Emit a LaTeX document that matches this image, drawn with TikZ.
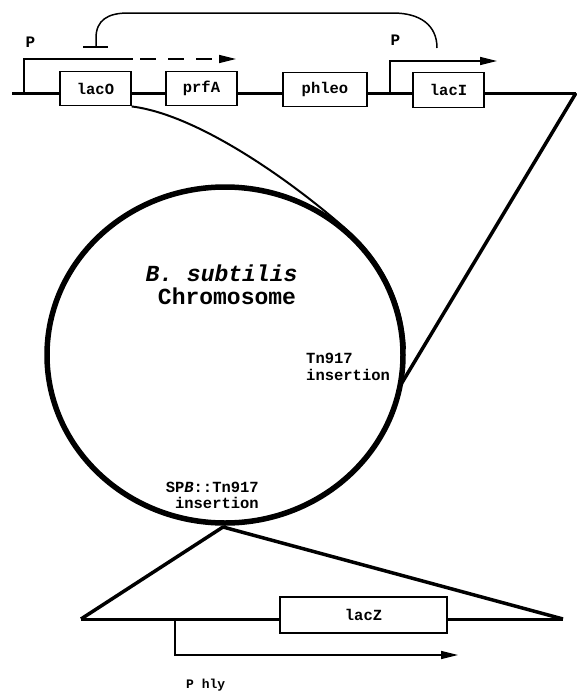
\documentclass[tikz,border=0pt]{standalone}
\usepackage{fontspec}
\setmainfont{Liberation Mono}
\usetikzlibrary{arrows.meta}
\begin{document}
\begin{tikzpicture}[x=1pt,y=-1pt,
  gene/.style={draw, line width=1.4pt, fill=white, inner sep=0pt, minimum height=34.5pt,
    font=\fontsize{15.5}{16}\selectfont\bfseries},
  dna/.style={line width=3pt},
  arm/.style={line width=3.5pt, line join=round},
  fineline/.style={line width=2pt},
  promline/.style={line width=1.5pt},
  tip/.style={-{Triangle[length=17pt,width=8pt]}},
  plbl/.style={inner sep=0pt, font=\fontsize{16}{16}\selectfont\bfseries},
  lbl/.style={inner sep=0pt, font=\fontsize{15.5}{16}\selectfont\bfseries},
  title/.style={inner sep=0pt, text depth=0pt, font=\fontsize{23}{24}\selectfont\bfseries},
]
\useasboundingbox (0,0) rectangle (576,691);
\fill[white] (0,0) rectangle (576,691);

% top construct
\coordinate (lineL) at (12,93);
\coordinate (lineR) at (576,93);
\draw[dna] (lineL) -- (lineR);
\node[gene, minimum width=71pt] (lacO) at (95.5,88.5) {lacO};
\node[gene, minimum width=71pt] (prfA) at (201.5,88.5) {prfA};
\node[gene, minimum width=84pt] (phleo) at (325,89.5) {phleo};
\node[gene, minimum width=71pt] (lacI) at (448.5,90) {lacI};

% promoter 1 (repressed, dashed transcript)
\coordinate (p1) at (24,93);
\coordinate (p1b) at (133,59);
\coordinate (p1c) at (140,59);
\coordinate (p1e) at (236,59);
\draw[promline] (p1) |- (p1b);
\draw[promline, dash pattern=on 16pt off 12pt, tip] (p1c) -- (p1e);
\node[plbl] (P1) at (30.5,42) {P};

% promoter 2
\coordinate (p2) at (390,93);
\coordinate (p2e) at (497,61);
\draw[promline, tip] (p2) |- (p2e);
\node[plbl] (P2) at (395.5,40) {P};

% repression by LacI
\coordinate (barL) at (83,47);
\coordinate (barR) at (108,47);
\coordinate (rep) at (96,47);
\coordinate (repEnd) at (437,48);
\draw[promline] (barL) -- (barR);
\draw[promline] (rep) -- (96,38) .. controls (96,20) and (108,13) .. (128,13)
  -- (393,13) .. controls (420,13) and (437,25) .. (repEnd);

% chromosome
\coordinate (cc) at (225,355);
\draw[line width=5.5pt] (cc) ellipse [x radius=178, y radius=168];
\draw[fineline] (lacO.south east) .. controls (201,115) and (299,187) ..
  ([shift={(-46.5:180 and 170)}]cc) arc[start angle=-46.5, end angle=-2, x radius=180, y radius=170];
\coordinate (tn) at (400,386);
\draw[arm] (lineR) -- (tn);

\node[title, anchor=base] (bs) at (221.5,281) {\itshape B. subtilis};
\node[title, anchor=base] (chr) at (227,304) {Chromosome};
\node[lbl, align=left, anchor=north west] (tnlbl) at (306,353) {Tn917\\[1pt]insertion};
\node[lbl, align=right, anchor=north east] (splbl) at (259,482) {SP\textit{B}::Tn917\\insertion};

% bottom construct
\coordinate (apex) at (223,527);
\coordinate (botL) at (81,619);
\coordinate (botR) at (563,619);
\draw[arm] (botL) -- (apex) -- (botR);
\draw[dna] (botL) -- (botR);
\node[gene, minimum width=167pt, minimum height=36pt] (lacZ) at (363.5,615) {lacZ};
\coordinate (ph) at (175,619);
\coordinate (phe) at (458,655);
\draw[promline, tip] (ph) |- (phe);
\node[inner sep=0pt, anchor=base west, font=\fontsize{13}{13}\selectfont\bfseries] (phly) at (186,688.5) {P hly};
\end{tikzpicture}
\end{document}
